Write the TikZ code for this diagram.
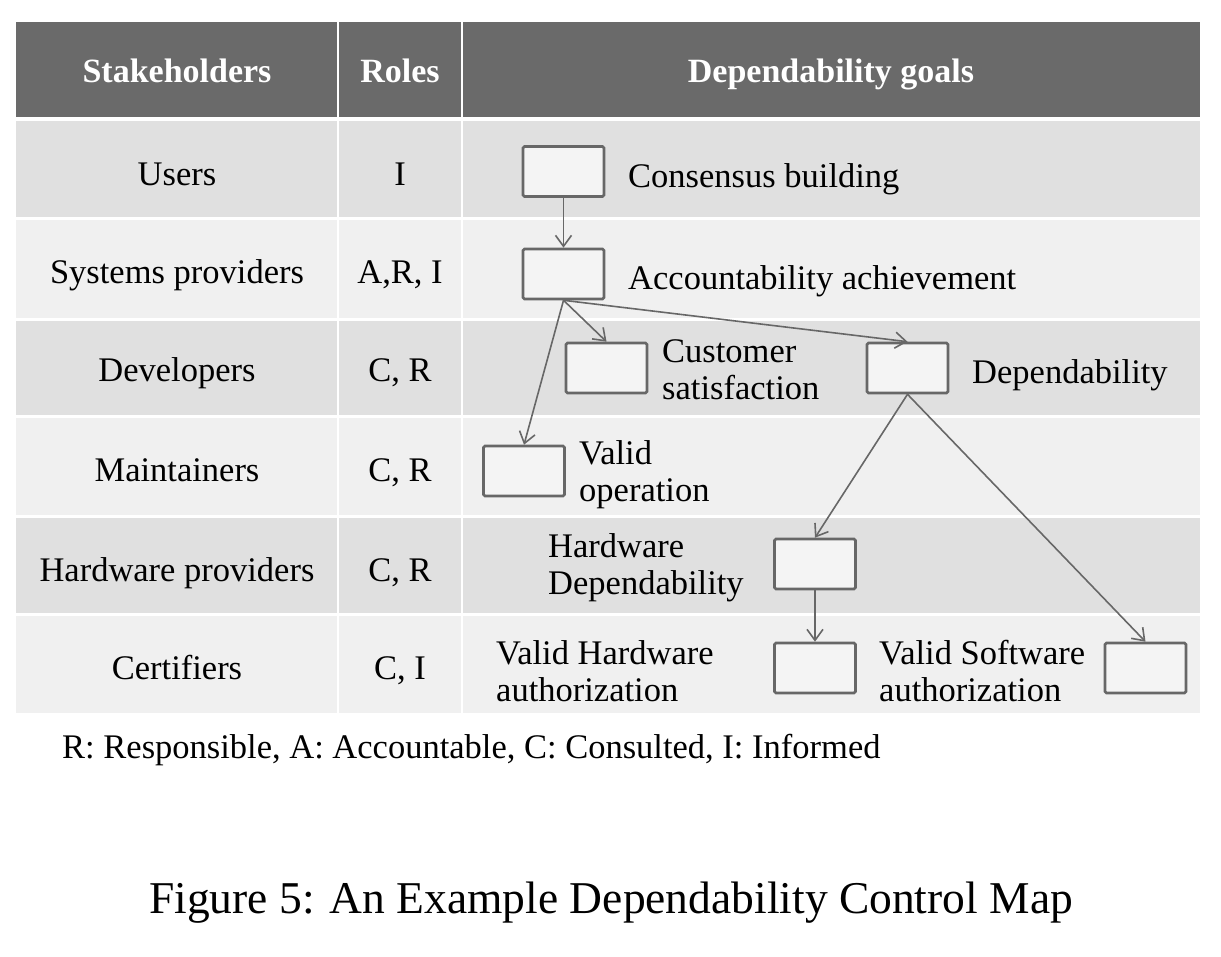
\documentclass[tikz,border=0pt]{standalone}
\usepackage{fontspec}
\setmainfont{Liberation Serif}
\usetikzlibrary{arrows.meta}
\definecolor{hdr}{HTML}{6A6A6A}
\definecolor{rowdark}{HTML}{E0E0E0}
\definecolor{rowlight}{HTML}{F0F0F0}
\definecolor{boxfill}{HTML}{F4F4F4}
\definecolor{linec}{HTML}{676767}
\tikzset{
  basefont/.style={font=\fontsize{34.5}{37}\selectfont, inner sep=0pt, text=black},
  tabtext/.style={basefont, text height=30pt, text depth=6pt},
  hdrtext/.style={font=\fontsize{34}{37}\selectfont\bfseries, inner sep=0pt, text=white,
    text height=28pt, text depth=6pt},
  goalbox/.style={draw=linec, fill=boxfill, line width=2.6pt, rounded corners=1.5pt,
    minimum width=81pt, minimum height=50pt, inner sep=0pt},
  goallabel/.style={tabtext, anchor=west},
  goallabeltwo/.style={basefont, anchor=west, align=left},
  link/.style={draw=linec, line width=1.6pt, -{Straight Barb[length=11pt,width=16pt,line width=1.6pt]}},
}
\begin{document}
\begin{tikzpicture}[x=1pt,y=-1pt]
\useasboundingbox (0,0) rectangle (1221,957);
% table background
\fill[hdr] (16,22) rectangle (1200,117);
\fill[rowdark]  (16,121) rectangle (1200,217);
\fill[rowlight] (16,220) rectangle (1200,318);
\fill[rowdark]  (16,321) rectangle (1200,415);
\fill[rowlight] (16,418) rectangle (1200,515);
\fill[rowdark]  (16,518) rectangle (1200,613);
\fill[rowlight] (16,616) rectangle (1200,713);
\draw[white, line width=2pt] (338,22) -- (338,713);
\draw[white, line width=2pt] (462,22) -- (462,713);
% header
\node[hdrtext] (h1) at (177,72) {Stakeholders};
\node[hdrtext] (h2) at (400,72) {Roles};
\node[hdrtext] (h3) at (831,72) {Dependability goals};
% stakeholders and roles
\node[tabtext] (s1) at (177,174) {Users};
\node[tabtext] (s2) at (177,272) {Systems providers};
\node[tabtext] (s3) at (177,370) {Developers};
\node[tabtext] (s4) at (177,469) {Maintainers};
\node[tabtext] (s5) at (177,569) {Hardware providers};
\node[tabtext] (s6) at (177,667) {Certifiers};
\node[tabtext] (r1) at (400,174) {I};
\node[tabtext] (r2) at (400,272) {A,R, I};
\node[tabtext] (r3) at (400,370) {C, R};
\node[tabtext] (r4) at (400,469) {C, R};
\node[tabtext] (r5) at (400,569) {C, R};
\node[tabtext] (r6) at (400,667) {C, I};
% goal boxes
\node[goalbox] (cons) at (563.5,171.5) {};
\node[goalbox] (acc)  at (563.5,274) {};
\node[goalbox] (cust) at (606.5,368) {};
\node[goalbox] (dep)  at (907.5,368) {};
\node[goalbox] (vop)  at (524,471) {};
\node[goalbox] (hwd)  at (815,564) {};
\node[goalbox] (vhw)  at (815,668) {};
\node[goalbox] (vsw)  at (1145.5,668) {};
% goal labels
\node[goallabel] (lcons) at (628,176) {Consensus building};
\node[goallabel] (lacc)  at (628,278) {Accountability achievement};
\node[goallabeltwo] (lcust) at (662,370) {Customer\\satisfaction};
\node[goallabel] (ldep)  at (972,372) {Dependability};
\node[goallabeltwo] (lvop)  at (579,475) {Valid\\operation};
\node[goallabeltwo] (lhwd)  at (548,568) {Hardware\\Dependability};
\node[goallabeltwo] (lvhw)  at (496,671) {Valid Hardware\\authorization};
\node[goallabeltwo] (lvsw)  at (879,671) {Valid Software\\authorization};
% connectors
\draw[link] (cons.south) -- (acc.north);
\draw[link] (acc.south) -- (cust.north);
\draw[link] (acc.south) -- (dep.north);
\draw[link] (acc.south) -- (vop.north);
\draw[link] (dep.south) -- (hwd.north);
\draw[link] (dep.south) -- (vsw.north);
\draw[link] (hwd.south) -- (vhw.north);
% legend and caption
\node[tabtext, anchor=west] (legend) at (62,746) {R: Responsible, A: Accountable, C: Consulted, I: Informed};
\node[font=\fontsize{45.5}{50}\selectfont, inner sep=0pt] (caption) at (611,903) {Figure 5: An Example Dependability Control Map};
\end{tikzpicture}
\end{document}
